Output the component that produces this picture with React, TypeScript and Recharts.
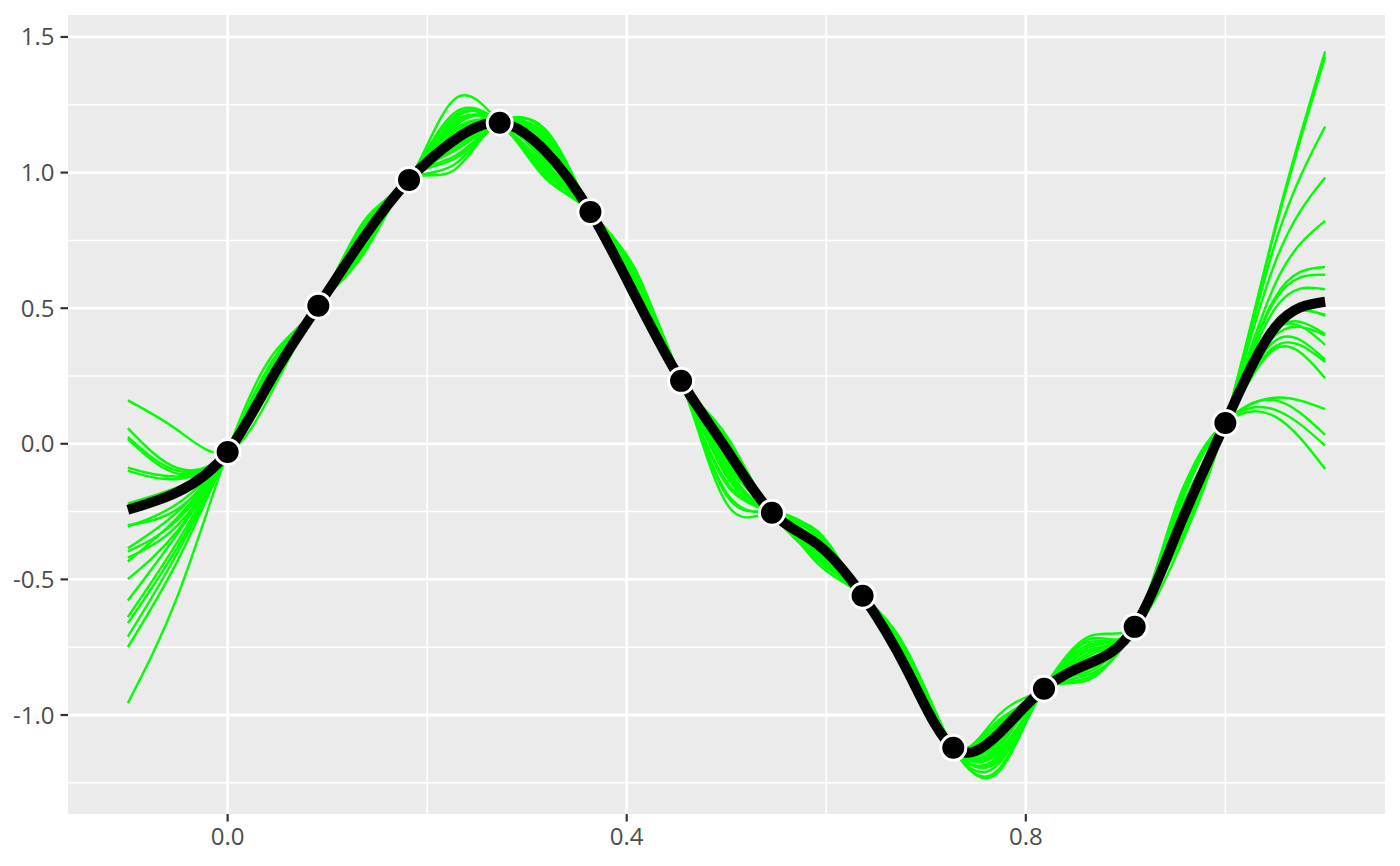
import React from 'react';
import {
  ComposedChart,
  Line,
  Scatter,
  XAxis,
  YAxis,
  ReferenceArea,
  ReferenceLine,
} from 'recharts';

// x positions where curves are sampled
const xGrid = [
  -0.1, -0.05, 0, 0.0455, 0.0909, 0.1364, 0.1818, 0.2273, 0.2727, 0.3182, 0.3636, 0.4091, 0.4545, 0.5,
  0.5455, 0.5909, 0.6364, 0.6818, 0.7273, 0.7727, 0.8182, 0.8636, 0.9091, 0.9545, 1.0, 1.05, 1.1,
];

// posterior mean (black)
const meanCurve = [
  -0.243, -0.178, -0.03, 0.25, 0.509, 0.76, 0.973, 1.12, 1.184, 1.08, 0.855, 0.54, 0.232, -0.02, -0.254,
  -0.37, -0.56, -0.84, -1.121, -1.07, -0.903, -0.81, -0.675, -0.3, 0.077, 0.43, 0.524,
];

// posterior draws (green)
const s1 = [0.16, 0.05, -0.03, 0.2, 0.509, 0.74, 0.973, 1.1, 1.184, 1.12, 0.855, 0.6, 0.232, -0.05, -0.254, -0.36, -0.56, -0.79, -1.121, -1.05, -0.903, -0.76, -0.675, -0.26, 0.077, 0.38, 0.31];
const s2 = [0.058, -0.09, -0.03, 0.22, 0.509, 0.78, 0.973, 1.15, 1.184, 1.04, 0.855, 0.62, 0.232, 0.02, -0.254, -0.4, -0.56, -0.78, -1.121, -1.12, -0.903, -0.84, -0.675, -0.36, 0.077, 0.8, 1.447];
const s3 = [0.025, -0.1, -0.03, 0.23, 0.509, 0.72, 0.973, 1.08, 1.184, 1.14, 0.855, 0.52, 0.232, -0.12, -0.254, -0.34, -0.56, -0.83, -1.121, -1.02, -0.903, -0.72, -0.675, -0.2, 0.077, 0.1, -0.093];
const s4 = [0.017, -0.11, -0.03, 0.22, 0.509, 0.8, 0.973, 1.2, 1.184, 1.0, 0.855, 0.58, 0.232, -0.02, -0.254, -0.42, -0.56, -0.77, -1.121, -1.18, -0.903, -0.8, -0.675, -0.31, 0.077, 0.54, 0.652];
const s5 = [-0.088, -0.12, -0.03, 0.24, 0.509, 0.76, 0.973, 1.13, 1.184, 1.09, 0.855, 0.61, 0.232, -0.18, -0.254, -0.33, -0.56, -0.82, -1.121, -1.08, -0.903, -0.86, -0.675, -0.34, 0.077, 0.74, 1.17];
const s6 = [-0.1, -0.13, -0.03, 0.24, 0.509, 0.71, 0.973, 1.05, 1.184, 1.15, 0.855, 0.55, 0.232, 0.03, -0.254, -0.38, -0.56, -0.79, -1.121, -1.1, -0.903, -0.74, -0.675, -0.22, 0.077, 0.16, 0.033];
const s7 = [-0.22, -0.16, -0.03, 0.25, 0.509, 0.77, 0.973, 1.21, 1.184, 1.06, 0.855, 0.63, 0.232, -0.08, -0.254, -0.43, -0.56, -0.8, -1.121, -1.21, -0.903, -0.82, -0.675, -0.29, 0.077, 0.44, 0.476];
const s8 = [-0.305, -0.22, -0.03, 0.26, 0.509, 0.74, 0.973, 1.12, 1.184, 1.1, 0.855, 0.53, 0.232, -0.22, -0.254, -0.35, -0.56, -0.77, -1.121, -1.0, -0.903, -0.78, -0.675, -0.27, 0.077, 0.42, 0.405];
const s9 = [-0.3, -0.24, -0.03, 0.27, 0.509, 0.81, 0.973, 1.27, 1.184, 1.02, 0.855, 0.62, 0.232, 0.0, -0.254, -0.41, -0.56, -0.81, -1.121, -1.14, -0.903, -0.71, -0.675, -0.38, 0.077, 0.79, 1.426];
const s10 = [-0.385, -0.25, -0.03, 0.26, 0.509, 0.7, 0.973, 1.06, 1.184, 1.13, 0.855, 0.57, 0.232, -0.1, -0.254, -0.37, -0.56, -0.77, -1.121, -1.06, -0.903, -0.85, -0.675, -0.23, 0.077, 0.125, -0.007];
const s11 = [-0.397, -0.28, -0.03, 0.27, 0.509, 0.79, 0.973, 1.17, 1.184, 0.98, 0.855, 0.59, 0.232, -0.15, -0.254, -0.44, -0.56, -0.79, -1.121, -1.16, -0.903, -0.79, -0.675, -0.32, 0.077, 0.59, 0.822];
const s12 = [-0.42, -0.3, -0.03, 0.28, 0.509, 0.75, 0.973, 1.11, 1.184, 1.11, 0.855, 0.64, 0.232, -0.04, -0.254, -0.32, -0.56, -0.78, -1.121, -1.04, -0.903, -0.83, -0.675, -0.28, 0.077, 0.36, 0.301];
const s13 = [-0.434, -0.27, -0.03, 0.27, 0.509, 0.73, 0.973, 1.16, 1.184, 1.05, 0.855, 0.56, 0.232, -0.06, -0.254, -0.39, -0.56, -0.84, -1.121, -1.13, -0.903, -0.75, -0.675, -0.33, 0.077, 0.53, 0.623];
const s14 = [-0.499, -0.32, -0.03, 0.28, 0.509, 0.82, 0.973, 1.19, 1.184, 1.08, 0.855, 0.61, 0.232, -0.14, -0.254, -0.36, -0.56, -0.77, -1.121, -1.2, -0.903, -0.81, -0.675, -0.21, 0.077, 0.17, 0.128];
const s15 = [-0.578, -0.33, -0.03, 0.29, 0.509, 0.77, 0.973, 1.03, 1.184, 1.12, 0.855, 0.51, 0.232, 0.01, -0.254, -0.42, -0.56, -0.8, -1.121, -1.03, -0.903, -0.77, -0.675, -0.3, 0.077, 0.5, 0.57];
const s16 = [-0.639, -0.36, -0.03, 0.29, 0.509, 0.72, 0.973, 1.14, 1.184, 0.99, 0.855, 0.6, 0.232, -0.09, -0.254, -0.34, -0.56, -0.81, -1.121, -1.09, -0.903, -0.87, -0.675, -0.35, 0.077, 0.67, 0.982];
const s17 = [-0.661, -0.38, -0.03, 0.3, 0.509, 0.8, 0.973, 1.09, 1.184, 1.16, 0.855, 0.54, 0.232, -0.19, -0.254, -0.38, -0.56, -0.82, -1.121, -1.17, -0.903, -0.73, -0.675, -0.25, 0.077, 0.42, 0.365];
const s18 = [-0.711, -0.4, -0.03, 0.3, 0.509, 0.76, 0.973, 1.22, 1.184, 1.03, 0.855, 0.63, 0.232, -0.03, -0.254, -0.4, -0.56, -0.78, -1.121, -1.11, -0.903, -0.8, -0.675, -0.28, 0.077, 0.45, 0.472];
const s19 = [-0.75, -0.43, -0.03, 0.31, 0.509, 0.74, 0.973, 1.01, 1.184, 1.07, 0.855, 0.58, 0.232, -0.11, -0.254, -0.36, -0.56, -0.8, -1.121, -1.07, -0.903, -0.76, -0.675, -0.19, 0.077, 0.35, 0.242];
const s20 = [-0.956, -0.56, -0.03, 0.33, 0.509, 0.78, 0.973, 1.18, 1.184, 1.01, 0.855, 0.59, 0.232, -0.07, -0.254, -0.41, -0.56, -0.79, -1.121, -1.15, -0.903, -0.82, -0.675, -0.31, 0.077, 0.4, 0.4];

const samples = [s1, s2, s3, s4, s5, s6, s7, s8, s9, s10, s11, s12, s13, s14, s15, s16, s17, s18, s19, s20];

// observed points
const knotX = [0, 0.0909, 0.1818, 0.2727, 0.3636, 0.4545, 0.5455, 0.6364, 0.7273, 0.8182, 0.9091, 1.0];
const knotY = [-0.03, 0.509, 0.973, 1.184, 0.855, 0.232, -0.254, -0.56, -1.121, -0.903, -0.675, 0.077];

const xTicks = [0, 0.4, 0.8];
const xMinor = [0.2, 0.6, 1.0];
const yTicks = [-1, -0.5, 0, 0.5, 1, 1.5];
const yMinor = [-1.25, -0.75, -0.25, 0.25, 0.75, 1.25];

const X_DOMAIN: [number, number] = [-0.16, 1.16];
const Y_DOMAIN: [number, number] = [-1.365, 1.581];

const rows = xGrid.map((x, i) => {
  const row: Record<string, number> = { x, mean: meanCurve[i] };
  samples.forEach((s, k) => {
    row[`s${k + 1}`] = s[i];
  });
  return row;
});

const knots = knotX.map((x, i) => ({ x, y: knotY[i] }));

const tickStyle = { fontSize: 24, fill: '#4D4D4D', fontFamily: '"Open Sans", sans-serif' };

const KnotDot = (props: any) => (
  <circle cx={props.cx} cy={props.cy} r={12.5} fill="#000" stroke="#fff" strokeWidth={3} />
);

const App = () => {
  return (
    <div style={{ position: 'absolute', left: 0, top: 0, background: '#fff' }}>
      <ComposedChart width={1400} height={866} data={rows} margin={{ top: 15, right: 15, bottom: 0, left: 0 }}>
        <XAxis
          dataKey="x"
          type="number"
          domain={X_DOMAIN}
          ticks={xTicks}
          allowDataOverflow
          axisLine={false}
          tickSize={7.5}
          tickMargin={6}
          tickLine={{ stroke: '#333', strokeWidth: 2.2 }}
          tick={tickStyle}
          tickFormatter={(v: number) => v.toFixed(1)}
          height={52}
        />
        <YAxis
          type="number"
          domain={Y_DOMAIN}
          ticks={yTicks}
          allowDataOverflow
          axisLine={false}
          tickSize={7.5}
          tickMargin={6}
          tickLine={{ stroke: '#333', strokeWidth: 2.2 }}
          tick={tickStyle}
          tickFormatter={(v: number) => v.toFixed(1)}
          width={68}
        />
        <ReferenceArea
          x1={X_DOMAIN[0]}
          x2={X_DOMAIN[1]}
          y1={Y_DOMAIN[0]}
          y2={Y_DOMAIN[1]}
          fill="#EBEBEB"
          fillOpacity={1}
          stroke="none"
        />
        {yMinor.map((v) => (
          <ReferenceLine key={`ym${v}`} y={v} stroke="#fff" strokeWidth={1.5} />
        ))}
        {xMinor.map((v) => (
          <ReferenceLine key={`xm${v}`} x={v} stroke="#fff" strokeWidth={1.5} />
        ))}
        {yTicks.map((v) => (
          <ReferenceLine key={`y${v}`} y={v} stroke="#fff" strokeWidth={2.8} />
        ))}
        {xTicks.map((v) => (
          <ReferenceLine key={`x${v}`} x={v} stroke="#fff" strokeWidth={2.8} />
        ))}
        {samples.map((_, k) => (
          <Line
            key={`s${k + 1}`}
            dataKey={`s${k + 1}`}
            type="natural"
            stroke="#00FF00"
            strokeWidth={2.4}
            dot={false}
            activeDot={false}
            isAnimationActive={false}
          />
        ))}
        <Line
          dataKey="mean"
          type="natural"
          stroke="#000"
          strokeWidth={10}
          strokeLinecap="butt"
          dot={false}
          activeDot={false}
          isAnimationActive={false}
        />
        <Scatter data={knots} dataKey="y" shape={KnotDot} isAnimationActive={false} />
      </ComposedChart>
    </div>
  );
};

export default App;
